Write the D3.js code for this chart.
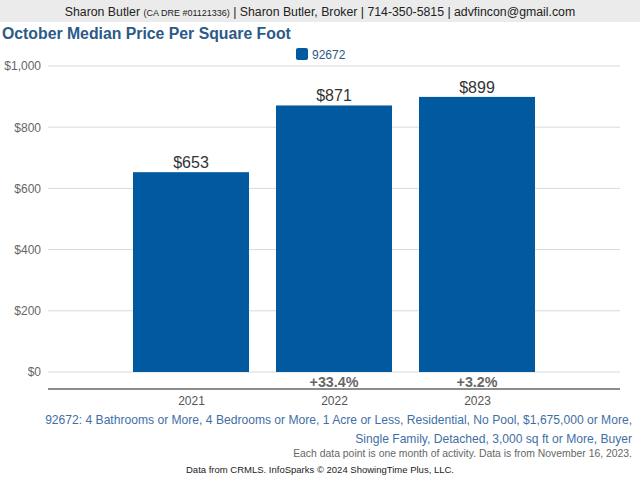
<!DOCTYPE html>
<html><head><meta charset="utf-8">
<script src="https://cdn.jsdelivr.net/npm/d3@7"></script>
<style>body{margin:0;background:#fff;font-family:"Liberation Sans",Arial,sans-serif}</style>
</head><body><svg id="c" width="640" height="480"></svg>
<script>
const years = ["2021","2022","2023"];
const values = [653, 871, 899];
const changes = ["", "+33.4%", "+3.2%"];
const yTicks = [0, 200, 400, 600, 800, 1000];
const seriesName = "92672";

(function(){
const svg = d3.select("#c");
const W = 640, H = 480;
const pL = 48, pR = 620, pT = 66, pB = 372;
const blue = "#01599f";

svg.append("rect").attr("x",0).attr("y",0).attr("width",W).attr("height",22).attr("fill","#ebebeb");
const hdr = svg.append("text").attr("x",320).attr("y",15.5).attr("text-anchor","middle").attr("font-size",12.3).attr("fill","#222");
hdr.append("tspan").text("Sharon Butler ");
hdr.append("tspan").attr("font-size",9).text("(CA DRE #01121336)");
hdr.append("tspan").text(" | Sharon Butler, Broker | 714-350-5815 | advfincon@gmail.com");

svg.append("text").attr("x",2).attr("y",38.5).attr("font-size",15.8).attr("font-weight","bold").attr("fill","#2c5a88").text("October Median Price Per Square Foot");

svg.append("rect").attr("x",296).attr("y",48).attr("width",12).attr("height",12).attr("rx",2).attr("fill",blue);
svg.append("text").attr("x",312).attr("y",58.5).attr("font-size",12).attr("fill","#2c5a88").text(seriesName);

const x = d3.scalePoint().domain(years).range([pL, pR]).padding(1);
const y = d3.scaleLinear().domain([0, 1000]).range([pB, pT]);
const bw = 116;

const g = svg.append("g");
g.selectAll("line.grid").data(yTicks).enter().append("line")
  .attr("x1",pL).attr("x2",pR).attr("y1",d=>y(d)).attr("y2",d=>y(d))
  .attr("stroke","#d9d9d9").attr("stroke-width",1);

const yAxis = d3.axisLeft(y).tickValues(yTicks).tickSize(0).tickPadding(7).tickFormat(d=>"$"+d3.format(",")(d));
const ya = svg.append("g").attr("transform",`translate(${pL},0)`).call(yAxis);
ya.select(".domain").remove();
ya.selectAll("text").attr("font-size",12).attr("fill","#666").attr("font-family","Liberation Sans, Arial, sans-serif");

g.selectAll("rect.bar").data(values).enter().append("rect")
  .attr("x",(d,i)=>x(years[i])-bw/2).attr("width",bw)
  .attr("y",d=>y(d)).attr("height",d=>y(0)-y(d)).attr("fill",blue);

g.selectAll("text.val").data(values).enter().append("text")
  .attr("x",(d,i)=>x(years[i])).attr("y",d=>y(d)-4)
  .attr("text-anchor","middle").attr("font-size",16).attr("fill","#333")
  .text(d=>"$"+d);

g.selectAll("text.chg").data(changes).enter().append("text")
  .attr("x",(d,i)=>x(years[i])).attr("y",386.5)
  .attr("text-anchor","middle").attr("font-size",14.3).attr("font-weight","bold").attr("fill","#666")
  .text(d=>d);

const xAxis = d3.axisBottom(x).tickSize(0).tickPadding(7);
const xa = svg.append("g").attr("transform","translate(0,389)").call(xAxis);
xa.select(".domain").attr("stroke","#666").attr("stroke-width",1.3).attr("d",`M${pL},0H${pR}`);
xa.selectAll("text").attr("font-size",12).attr("fill","#555").attr("font-family","Liberation Sans, Arial, sans-serif");

svg.append("text").attr("x",632).attr("y",424).attr("text-anchor","end").attr("font-size",12.1).attr("fill","#3f6fa6")
  .text("92672: 4 Bathrooms or More, 4 Bedrooms or More, 1 Acre or Less, Residential, No Pool, $1,675,000 or More,");
svg.append("text").attr("x",632).attr("y",443).attr("text-anchor","end").attr("font-size",12.1).attr("fill","#3f6fa6")
  .text("Single Family, Detached, 3,000 sq ft or More, Buyer");
svg.append("text").attr("x",632).attr("y",457).attr("text-anchor","end").attr("font-size",10.4).attr("fill","#666")
  .text("Each data point is one month of activity. Data is from November 16, 2023.");
svg.append("text").attr("x",320).attr("y",473).attr("text-anchor","middle").attr("font-size",9.5).attr("fill","#222")
  .text("Data from CRMLS. InfoSparks © 2024 ShowingTime Plus, LLC.");
})();
</script></body></html>
